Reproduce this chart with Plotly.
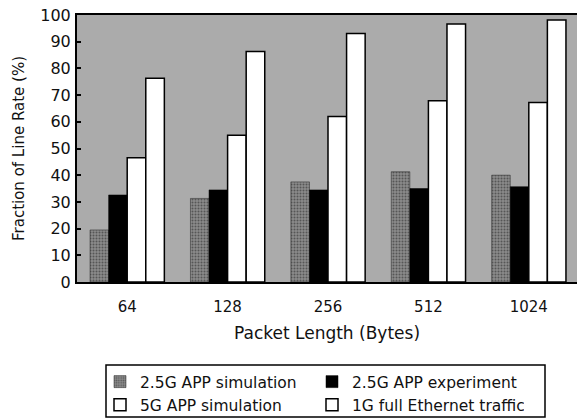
import plotly.graph_objects as go

categories = ["64", "128", "256", "512", "1024"]
sim_25g = [19.5, 31.3, 37.5, 41.3, 40.0]
exp_25g = [32.6, 34.5, 34.5, 35.0, 35.7]
sim_5g = [46.5, 55.0, 62.0, 67.9, 67.2]
eth_1g = [76.3, 86.3, 93.1, 96.6, 98.1]
y_ticks = [0, 10, 20, 30, 40, 50, 60, 70, 80, 90, 100]

FONT = "DejaVu Sans"
INK = "#111111"

fig = go.Figure()
fig.add_trace(go.Bar(
    x=categories, y=sim_25g, name="2.5G APP simulation",
    marker=dict(color="#8a8a8a", line=dict(color="#222222", width=0.5),
                pattern=dict(shape=".", fgcolor="#222222", bgcolor="#8a8a8a",
                             size=3, solidity=0.35)),
))
fig.add_trace(go.Bar(
    x=categories, y=exp_25g, name="2.5G APP experiment",
    marker=dict(color="#000000", line=dict(color="#000000", width=0.5)),
))
fig.add_trace(go.Bar(
    x=categories, y=sim_5g, name="5G APP simulation",
    marker=dict(color="#ffffff", line=dict(color="#000000", width=1.5)),
))
fig.add_trace(go.Bar(
    x=categories, y=eth_1g, name="1G full Ethernet traffic",
    marker=dict(color="#ffffff", line=dict(color="#000000", width=1.5)),
))

# legend frame (drawn as a separate box so the entries can sit close to it)
fig.add_shape(
    type="rect", xref="paper", yref="paper",
    x0=0.058, x1=0.936, y0=-0.3109, y1=-0.5056,
    line=dict(color="#000000", width=1.5), fillcolor="rgba(0,0,0,0)",
    layer="above",
)

fig.update_layout(
    width=577, height=419,
    margin=dict(l=77, r=0, t=15, b=137, autoexpand=False),
    paper_bgcolor="#ffffff",
    plot_bgcolor="#ababab",
    barmode="group",
    bargap=0.26,
    bargroupgap=0.0,
    font=dict(family=FONT, size=16, color=INK),
    showlegend=True,
    legend=dict(
        orientation="h",
        x=0.046, xanchor="left",
        y=-0.311, yanchor="top",
        borderwidth=0,
        bgcolor="rgba(0,0,0,0)",
        font=dict(family=FONT, size=15.5, color=INK),
        entrywidth=167, entrywidthmode="pixels",
        traceorder="normal",
    ),
    xaxis=dict(
        type="category",
        range=[-0.5, 4.48],
        automargin=False,
        showline=True, linecolor="#000000", linewidth=2, mirror=True,
        ticks="", showgrid=False,
        tickfont=dict(family=FONT, size=15, color=INK),
        ticklabelstandoff=10,
        title=dict(text="Packet Length (Bytes)", standoff=12,
                   font=dict(family=FONT, size=17, color=INK)),
    ),
    yaxis=dict(
        range=[0, 100],
        tickvals=y_ticks,
        automargin=False,
        showline=True, linecolor="#000000", linewidth=2, mirror=False,
        ticks="inside", ticklen=4, tickcolor="#000000", tickwidth=1.5,
        showgrid=False, zeroline=False,
        tickfont=dict(family=FONT, size=16, color=INK),
        ticklabelstandoff=1,
        title=dict(text="Fraction of Line Rate (%)", standoff=12,
                   font=dict(family=FONT, size=15, color=INK)),
    ),
)

fig.write_html(
    "out.html",
    config={"displayModeBar": False},
    post_script="document.body.style.margin='0';document.body.style.padding='0';",
)
